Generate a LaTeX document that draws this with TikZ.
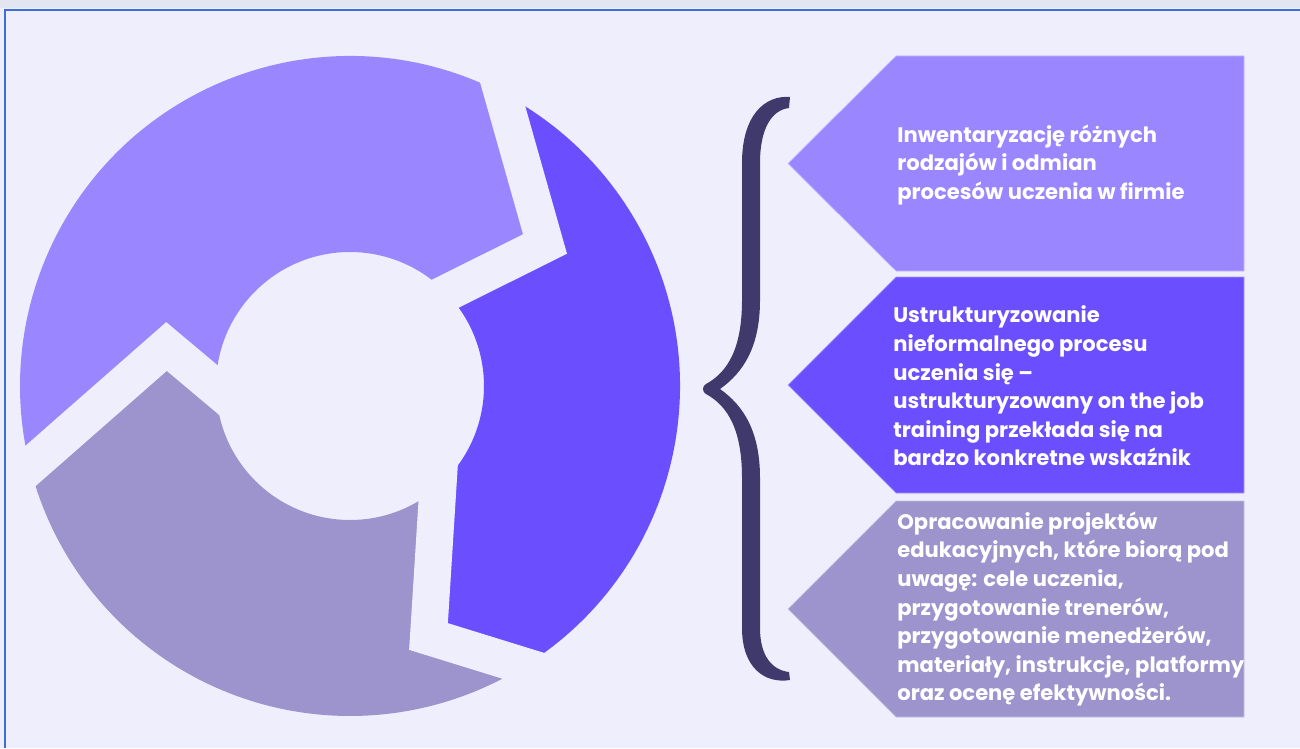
\documentclass[tikz,border=0pt]{standalone}
\usepackage{fontspec}
\setmainfont{Poppins}
\usetikzlibrary{calc}
\definecolor{pagecol}{RGB}{239,238,252}
\definecolor{stripcol}{RGB}{227,230,241}
\definecolor{framecol}{RGB}{58,111,216}
\definecolor{ringlight}{RGB}{154,134,255}
\definecolor{ringdeep}{RGB}{107,79,255}
\definecolor{ringgrey}{RGB}{157,147,205}
\definecolor{bracecol}{RGB}{64,57,107}
\tikzset{
	arrowbox/.style={fill=#1,draw=#1!60!white,line width=0.4pt,line join=miter},
	gapband/.style={draw=pagecol,line width=0.74cm,line join=miter},
	boxtext/.style={anchor=west,inner sep=0pt,align=left,text=white,font=\fontsize{12pt}{16.3pt}\selectfont\bfseries}
}
\begin{document}
\begin{tikzpicture}[x=0.02cm,y=0.02cm]
		\useasboundingbox (0,0) rectangle (1300,748);
		\fill[pagecol] (0,0) rectangle (1300,748);
		\fill[stripcol] (0,740) rectangle (1300,748);
		\begin{scope}[shift={(350,362)}]
			\coordinate (g1i) at (43.9:134); \coordinate (g1t) at (195,142); \coordinate (g1o) at (62.5:330);
			\coordinate (g2i) at (180.9:134); \coordinate (g2t) at (-183.5,39.5); \coordinate (g2o) at (194.1:330);
			\coordinate (g3i) at (-49:134); \coordinate (g3t) at (78.5,-250.5); \coordinate (g3o) at (-58.1:330);
			\fill[ringlight] (g1i) -- (g1t) -- (g1o) arc[start angle=62.5,end angle=194.1,radius=330] -- (g2t) -- (g2i) arc[start angle=180.9,end angle=43.9,radius=134] -- cycle;
			\fill[ringdeep] (g3i) -- (g3t) -- (g3o) arc[start angle=-58.1,end angle=62.5,radius=330] -- (g1t) -- (g1i) arc[start angle=43.9,end angle=-49,radius=134] -- cycle;
			\fill[ringgrey] (g2i) -- (g2t) -- (g2o) arc[start angle=194.1,end angle=301.9,radius=330] -- (g3t) -- (g3i) arc[start angle=311,end angle=180.9,radius=134] -- cycle;
			\draw[gapband] ($(g1t)!1.3!(g1o)$) -- (g1t) -- ($(g1t)!1.6!(g1i)$);
			\draw[gapband] ($(g2t)!1.3!(g2o)$) -- (g2t) -- ($(g2t)!1.6!(g2i)$);
			\draw[gapband] ($(g3t)!1.3!(g3o)$) -- (g3t) -- ($(g3t)!1.6!(g3i)$);
		\end{scope}
		\fill[bracecol] (790,651) .. controls (765,653) and (742,633) .. (742,585) -- (742,448) .. controls (742,400) and (728,376) .. (706,364) .. controls (702,362) and (702,356) .. (706,354) .. controls (728,342) and (742,318) .. (742,270) -- (742,120) .. controls (742,80) and (765,64) .. (790,68) -- (789,76) .. controls (772,78) and (760,92) .. (760,120) -- (760,270) .. controls (760,316) and (744,342) .. (720,359) .. controls (744,376) and (760,402) .. (760,448) -- (760,585) .. controls (760,620) and (772,638) .. (789,640) -- cycle;
		\fill[arrowbox=ringlight] (1244,692) -- (896,692) -- (788,584.5) -- (896,477) -- (1244,477) -- cycle;
		\fill[arrowbox=ringdeep] (1244,471) -- (896,471) -- (788,363) -- (896,255) -- (1244,255) -- cycle;
		\fill[arrowbox=ringgrey] (1244,247) -- (896,247) -- (788,139) -- (896,31) -- (1244,31) -- cycle;
		\node[boxtext] (inv) at (897,583) {Inwentaryzację różnych\\rodzajów i odmian\\procesów uczenia w firmie};
		\node[boxtext] (ustr) at (893,362) {Ustrukturyzowanie\\nieformalnego procesu\\uczenia się –\\ustrukturyzowany on the job\\training przekłada się na\\bardzo konkretne wskaźnik};
		\node[boxtext] (opr) at (897,139) {Opracowanie projektów\\edukacyjnych, które biorą pod\\uwagę: cele uczenia,\\przygotowanie trenerów,\\przygotowanie menedżerów,\\materiały, instrukcje, platformy\\oraz ocenę efektywności.};
		\draw[framecol,line width=0.05cm] (5,0) -- (5,738) -- (1300,738);
\end{tikzpicture}
\end{document}
